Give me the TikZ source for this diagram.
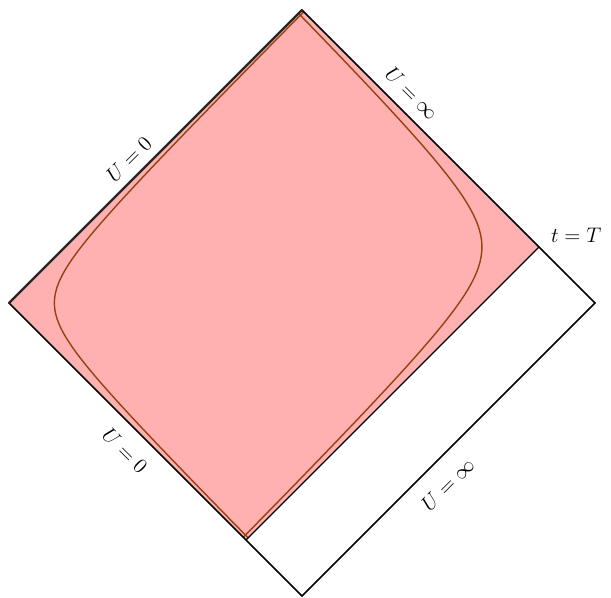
\documentclass[tikz,border=0pt]{standalone}
\definecolor{regionpink}{RGB}{255,176,176}
\definecolor{curvebrown}{RGB}{150,66,18}
\begin{document}
\begin{tikzpicture}[
  edge/.style={line width=0.9pt},
  lab/.style={font=\fontsize{13}{15}\selectfont, sloped}]
  \useasboundingbox (0,0) rectangle (12.22,11.94);
  \coordinate (T) at (6.04,11.74);
  \coordinate (L) at (0.18,5.88);
  \coordinate (B) at (6.04,0.02);
  \coordinate (R) at (11.90,5.88);
  \coordinate (P) at (10.781,6.999);
  \coordinate (Q) at (4.921,1.139);

  \fill[regionpink] (T) -- (L) -- (Q) -- (P) -- cycle;

  % curve in null coordinates
  \begin{scope}[shift={(T)}, x={(5.86cm,-5.86cm)}, y={(-5.86cm,-5.86cm)}]
    \draw[curvebrown, line width=0.8pt] plot[variable=\s, domain=-2.558:2.345, samples=120, smooth]
      ({0.0775*exp(\s)}, {1-0.0775*exp(-\s)});
    \draw[curvebrown, line width=0.8pt] plot[variable=\s, domain=-2.328:2.116, samples=120, smooth]
      ({0.809-0.0975*exp(\s)}, {0.0975*exp(-\s)});
  \end{scope}

  \draw[edge] (T) -- (L) -- (B) -- (R) -- cycle;
  \draw[line width=1.4pt, black!85] (T) -- (L);
  \draw[line width=0.7pt] (P) -- (Q);

  \path (L) -- (T) node[lab, pos=0.45, above=2pt] {$U=0$};
  \path (T) -- (R) node[lab, pos=0.33, above=3pt] {$U=\infty$};
  \path (L) -- (B) node[lab, pos=0.45, below=5pt] {$U=0$};
  \path (B) -- (R) node[lab, pos=0.44, below=6pt] {$U=\infty$};
  \node[font=\fontsize{13}{15}\selectfont, anchor=south west, inner sep=1pt, xshift=0.2cm, yshift=0.05cm] at (P) {$t=T$};
\end{tikzpicture}
\end{document}
